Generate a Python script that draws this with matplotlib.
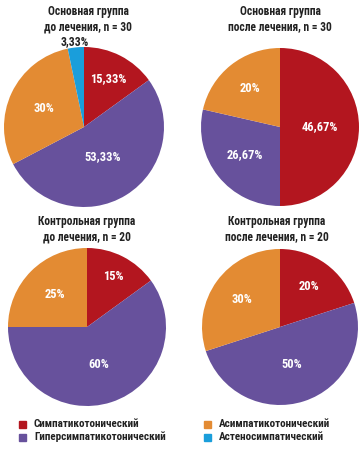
import matplotlib
matplotlib.use("Agg")
import matplotlib.pyplot as plt
import numpy as np

plt.rcParams['font.family'] = ['Roboto Condensed', 'DejaVu Sans']

categories = ["Симпатикотонический", "Гиперсимпатикотонический",
              "Асимпатикотонический", "Астеносимпатический"]
colors = ["#B3161F", "#67519C", "#E38B33", "#1A9EDB"]

titles = ["Основная группа\nдо лечения, n = 30",
          "Основная группа\nпосле лечения, n = 30",
          "Контрольная группа\nдо лечения, n = 20",
          "Контрольная группа\nпосле лечения, n = 20"]
main_before = [15.33, 53.33, 30, 3.33]
main_after = [46.67, 26.67, 20, 0]
control_before = [15, 60, 25, 0]
control_after = [20, 50, 30, 0]
labels_main_before = ["15,33%", "53,33%", "30%", "3,33%"]
labels_main_after = ["46,67%", "26,67%", "20%", ""]
labels_control_before = ["15%", "60%", "25%", ""]
labels_control_after = ["20%", "50%", "30%", ""]

data = [main_before, main_after, control_before, control_after]
labels = [labels_main_before, labels_main_after, labels_control_before, labels_control_after]

W, H = 359, 451
fig = plt.figure(figsize=(W / 100, H / 100), dpi=100)

# pie centers and radius in pixels
centers = [(84, 127, 80), (280, 127, 79), (87, 327, 79), (280, 327, 78)]
title_y = [19, 19, 229, 229]
title_x = [88, 280, 87, 277]
# label distance from center, fraction of radius
dists = [[0.68, 0.44, 0.55, 1.0], [0.5, 0.57, 0.62, 0], [0.72, 0.5, 0.58, 0], [0.64, 0.5, 0.6, 0]]

for i in range(4):
    cx, cy, r = centers[i]
    ax = fig.add_axes([(cx - r) / W, (H - cy - r) / H, 2 * r / W, 2 * r / H])
    vals = data[i]
    wedges, _ = ax.pie(vals, colors=colors, startangle=90, counterclock=False,
                       wedgeprops=dict(linewidth=0))
    ax.set_xlim(-1, 1)
    ax.set_ylim(-1, 1)
    ax.set_aspect('auto')
    for w, lab, d in zip(wedges, labels[i], dists[i]):
        if not lab:
            continue
        ang = np.deg2rad((w.theta1 + w.theta2) / 2)
        if lab == "3,33%":
            ax.text(-0.11, 1.07, lab, ha='center', va='center',
                    fontsize=8.5, fontweight='bold', color='#222222')
        else:
            ax.text(d * np.cos(ang), d * np.sin(ang), lab, ha='center', va='center',
                    fontsize=9, fontweight='bold', color='white')
    fig.text(title_x[i] / W, 1 - title_y[i] / H, titles[i], ha='center', va='center',
             fontsize=8.3, fontweight='bold', color='#222222', linespacing=1.25)

# legend
leg_pos = [(22, 424), (22, 437), (207, 424), (207, 437)]
for (x, y), c, name in zip(leg_pos, colors, categories):
    fig.patches.append(plt.Rectangle(((x - 3.5) / W, 1 - (y + 3.5) / H), 7 / W, 7 / H,
                                     transform=fig.transFigure, color=c, figure=fig))
    fig.text((x + 12) / W, 1 - y / H, name, ha='left', va='center', fontsize=8,
             fontweight='bold', color='#222222')

fig.savefig("out.png", dpi=100)
